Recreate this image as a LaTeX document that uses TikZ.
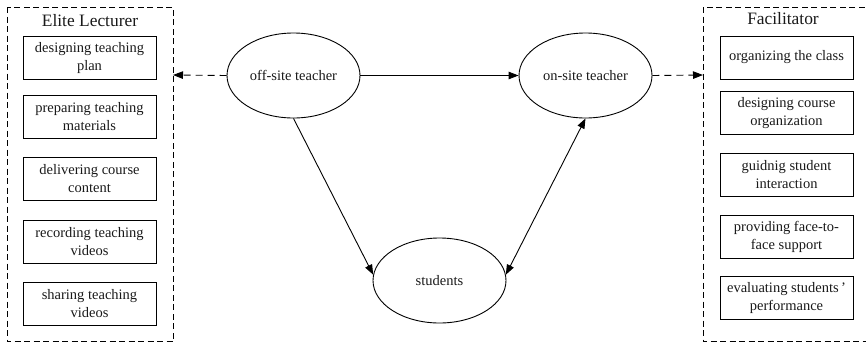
\documentclass[tikz,border=0pt]{standalone}
\usepackage{fontspec}
\setmainfont{Liberation Serif}
\usetikzlibrary{arrows.meta,shapes.geometric}
\begin{document}
\begin{tikzpicture}[x=1pt,y=-1pt,
  every node/.style={font=\fontsize{14.5}{18}\selectfont, text=black!90},
  task/.style={draw, line width=0.9pt, minimum width=133pt, minimum height=43pt, align=center, inner sep=0pt},
  role/.style={draw, ellipse, line width=0.9pt, minimum width=133pt, minimum height=85pt, inner sep=0pt},
  group/.style={draw, line width=0.9pt, dash pattern=on 6pt off 3.5pt},
  title/.style={font=\fontsize{17.4}{20}\selectfont},
  tip/.tip={Triangle[length=10pt,width=7.5pt]},
  link/.style={line width=0.9pt, -tip},
  dlink/.style={link, dash pattern=on 7pt off 5pt},
  ]
\useasboundingbox (0,0) rectangle (866,343);
\begin{scope}
\clip (0,0) rectangle (866,343);
% dashed role groups
\draw[group] (7,7) rectangle (173,341.5);
\draw[group] (703,7) rectangle (872,341.5);
\end{scope}
\coordinate (elite) at (173,75);
\coordinate (facil) at (703,75);
\node[title] (tl) at (90,21) {Elite Lecturer};
\node[title] (tr) at (783,19) {Facilitator};

% lecturer tasks
\node[task] (l1) at (89.5,58) {designing teaching\\plan};
\node[task] (l2) at (89.5,117) {preparing teaching\\materials};
\node[task] (l3) at (89.5,178.5) {delivering course\\content};
\node[task] (l4) at (89.5,242) {recording teaching\\videos};
\node[task] (l5) at (89.5,303.5) {sharing teaching\\videos};

% facilitator tasks
\node[task] (r1) at (786.5,57.5) {organizing the class};
\node[task] (r2) at (786.5,113) {designing course\\organization};
\node[task] (r3) at (786.5,175) {guidnig student\\interaction};
\node[task] (r4) at (786.5,237) {providing face-to-\\face support};
\node[task] (r5) at (786.5,298) {evaluating students\,'\\performance};

% participants
\node[role] (off) at (293.5,75.5) {off-site teacher};
\node[role] (on) at (585.5,75.5) {on-site teacher};
\node[role] (st) at (439.5,280.5) {students};

% relations
\draw[dlink] (off.west) -- (elite);
\draw[dlink] (on.east) -- (facil);
\draw[link] (off.east) -- (on.west);
\draw[link] (off.south) -- (st.175);
\draw[link, tip-tip] (st.5) -- (on.south);
\end{tikzpicture}
\end{document}
